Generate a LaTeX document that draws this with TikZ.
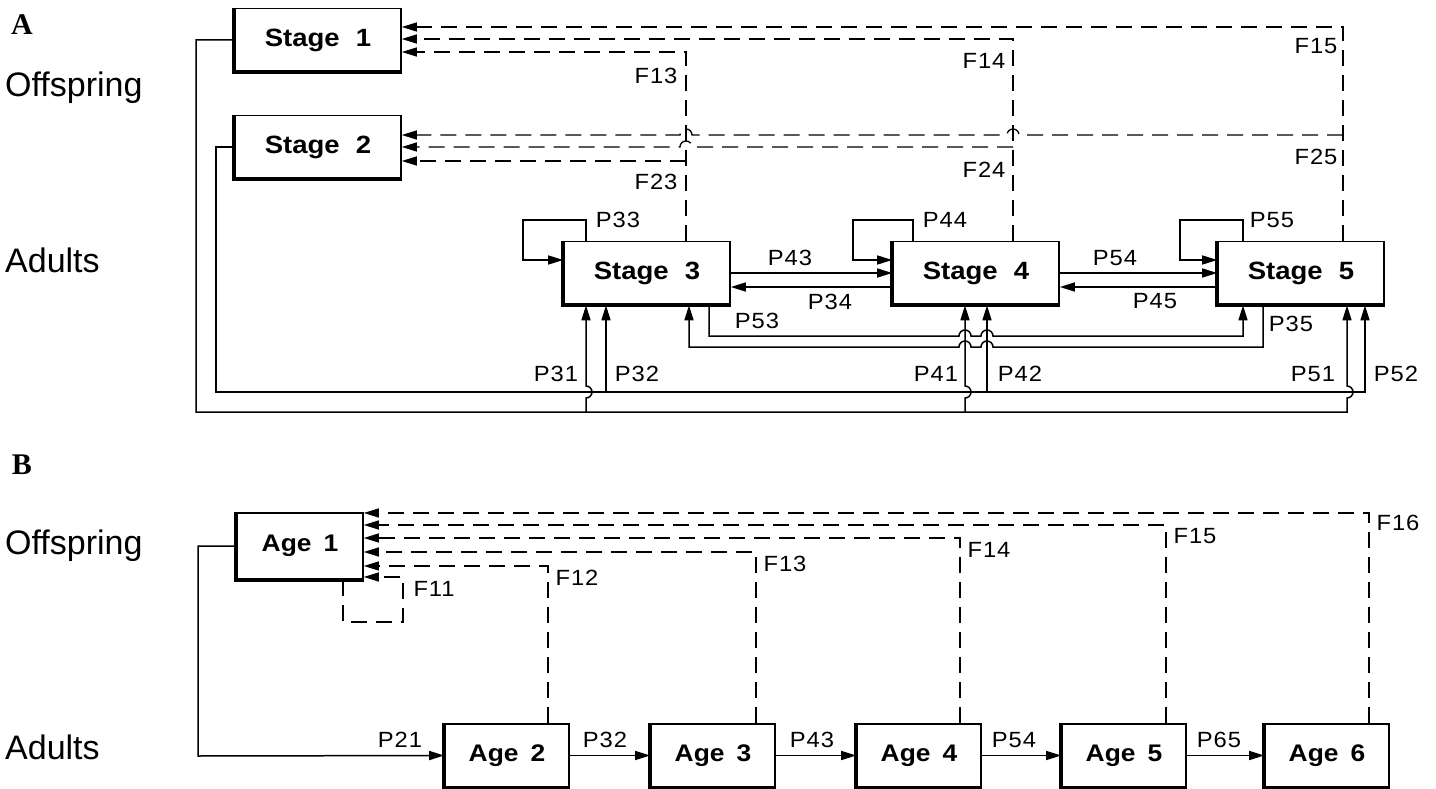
\documentclass[tikz,border=0pt]{standalone}
\usepackage{fontspec}
\setmainfont{Liberation Sans}
\newfontfamily\labfont[FakeStretch=1.08,LetterSpace=4]{Liberation Sans}
\newfontfamily\boxfont[FakeStretch=1.1]{Liberation Sans}
\newfontfamily\panelfont{Liberation Serif}
\usetikzlibrary{arrows.meta}
\begin{document}
\begin{tikzpicture}[x=1pt,y=-1pt,
  box/.style={draw, line width=1.6pt, inner sep=0pt},
  stagebox/.style={box, minimum width=166pt, minimum height=63pt, font=\boxfont\bfseries\fontsize{25}{29}\selectfont},
  agebox/.style={box, minimum width=124pt, minimum height=63pt, font=\boxfont\bfseries\fontsize{24}{28}\selectfont},
  thickedge/.style={line width=3.8pt, line join=miter},
  conn/.style={line width=1.5pt},
  fdash/.style={line width=1.3pt, dash pattern=on 16pt off 9pt},
  tip/.style={-{Triangle[length=15pt,width=9pt]}},
  lab/.style={font=\labfont\fontsize{22}{26}\selectfont, inner sep=0pt},
  side/.style={font=\fontsize{34}{40}\selectfont, inner sep=0pt, anchor=base west},
  panel/.style={font=\panelfont\bfseries\fontsize{30}{34}\selectfont, inner sep=0pt}]
\useasboundingbox (0,0) rectangle (1436,789);

% ---------- Panel A ----------
\node[panel] (pa) at (22,25) {A};
\node[side] (offa) at (5,97) {Offspring};
\node[side] (adua) at (5,272) {Adults};

\node[stagebox] (s1) at (318,40) {Stage\hspace{0.65em}1};
\node[stagebox] (s2) at (318,147) {Stage\hspace{0.65em}2};
\node[stagebox] (s3) at (647,273) {Stage\hspace{0.65em}3};
\node[stagebox] (s4) at (976,273) {Stage\hspace{0.65em}4};
\node[stagebox] (s5) at (1301,273) {Stage\hspace{0.65em}5};

% fecundity (dashed)
\draw[fdash,tip] (s3.north -| 686,0) -- (686,52) -- (s1.east |- 0,52);
\draw[fdash,tip] (686,161) -- (s2.east |- 0,161);
\draw[fdash,tip] (s4.north -| 1013,0) -- (1013,39) -- (s1.east |- 0,39);
\draw[fdash,tip] (1013,147) -- (692,147) arc[start angle=0,end angle=180,radius=6pt] -- (s2.east |- 0,147);
\draw[fdash,tip] (s5.north -| 1343,0) -- (1343,27) -- (s1.east |- 0,27);
\draw[fdash,tip] (1343,135) -- (1019,135) arc[start angle=0,end angle=180,radius=6pt]
   -- (692,135) arc[start angle=0,end angle=180,radius=6pt] -- (s2.east |- 0,135);

\node[lab] (f13) at (656,76) {F13};
\node[lab] (f23) at (656,182) {F23};
\node[lab] (f14) at (984,61) {F14};
\node[lab] (f24) at (984,170) {F24};
\node[lab] (f15) at (1316,46) {F15};
\node[lab] (f25) at (1316,157) {F25};

% self loops
\draw[conn,tip] (s3.north -| 586,0) -- (586,220) -- (523,220) -- (523,260) -- (s3.west |- 0,260);
\draw[conn,tip] (s4.north -| 913,0) -- (913,220) -- (853,220) -- (853,260) -- (s4.west |- 0,260);
\draw[conn,tip] (s5.north -| 1243,0) -- (1243,220) -- (1180,220) -- (1180,260) -- (s5.west |- 0,260);
\node[lab] (p33) at (618,220) {P33};
\node[lab] (p44) at (945,220) {P44};
\node[lab] (p55) at (1272,220) {P55};

% horizontal transitions
\draw[conn,tip] (s3.east |- 0,273) -- (s4.west |- 0,273);
\draw[conn,tip] (s4.west |- 0,287) -- (s3.east |- 0,287);
\draw[conn,tip] (s4.east |- 0,273) -- (s5.west |- 0,273);
\draw[conn,tip] (s5.west |- 0,287) -- (s4.east |- 0,287);
\node[lab] (p43) at (790,258) {P43};
\node[lab] (p34) at (830,302) {P34};
\node[lab] (p54) at (1115,258) {P54};
\node[lab] (p45) at (1155,301) {P45};

% stage 3 <-> stage 5
\draw[conn,tip] (s3.south -| 709,0) -- (709,336) -- (959,336) arc[start angle=180,end angle=0,radius=6pt]
   -- (981,336) arc[start angle=180,end angle=0,radius=6pt] -- (1243,336) -- (s5.south -| 1243,0);
\draw[conn,tip] (s5.south -| 1263,0) -- (1263,347) -- (993,347) arc[start angle=0,end angle=180,radius=6pt]
   -- (971,347) arc[start angle=0,end angle=180,radius=6pt] -- (689,347) -- (s3.south -| 689,0);
\node[lab] (p53) at (757,321) {P53};
\node[lab] (p35) at (1291,324) {P35};

% from stage 1
\draw[conn,tip] (s1.west) -| (196,412) -- (586,412) -- (586,398) arc[start angle=-90,end angle=90,radius=6pt] -- (s3.south -| 586,0);
\draw[conn,tip] (586,412) -- (965,412) -- (965,398) arc[start angle=-90,end angle=90,radius=6pt] -- (s4.south -| 965,0);
\draw[conn,tip] (965,412) -- (1347,412) -- (1347,398) arc[start angle=-90,end angle=90,radius=6pt] -- (s5.south -| 1347,0);
% from stage 2
\draw[conn,tip] (s2.west) -| (216,392) -- (606,392) -- (s3.south -| 606,0);
\draw[conn,tip] (606,392) -- (987,392) -- (s4.south -| 987,0);
\draw[conn,tip] (987,392) -- (1365,392) -- (s5.south -| 1365,0);
\node[lab] (p31) at (556,374) {P31};
\node[lab] (p32) at (637,374) {P32};
\node[lab] (p41) at (936,374) {P41};
\node[lab] (p42) at (1020,374) {P42};
\node[lab] (p51) at (1313,374) {P51};
\node[lab] (p52) at (1396,374) {P52};

% ---------- Panel B ----------
\node[panel] (pb) at (22,465) {B};
\node[side] (offb) at (5,554) {Offspring};
\node[side] (adub) at (5,759) {Adults};

\node[agebox, minimum width=126pt, minimum height=66pt] (a1) at (300,546) {Age\hspace{0.5em}1};
\node[agebox] (a2) at (507,755.5) {Age\hspace{0.5em}2};
\node[agebox] (a3) at (713,755.5) {Age\hspace{0.5em}3};
\node[agebox] (a4) at (919,755.5) {Age\hspace{0.5em}4};
\node[agebox] (a5) at (1124,755.5) {Age\hspace{0.5em}5};
\node[agebox] (a6) at (1327,755.5) {Age\hspace{0.5em}6};

\draw[conn,tip] (a1.west) -| (198,756) -- (a2.west);
\draw[conn,tip] (a2.east) -- (a3.west);
\draw[conn,tip] (a3.east) -- (a4.west);
\draw[conn,tip] (a4.east) -- (a5.west);
\draw[conn,tip] (a5.east) -- (a6.west);
\node[lab] (q21) at (400,740) {P21};
\node[lab] (q32) at (605,740) {P32};
\node[lab] (q43) at (812,740) {P43};
\node[lab] (q54) at (1014,740) {P54};
\node[lab] (q65) at (1219,740) {P65};

\draw[fdash,tip] (a1.south -| 343,0) -- (343,622) -- (403,622) -- (403,577) -- (a1.east |- 0,577);
\draw[fdash,tip] (a2.north -| 548,0) -- (548,566) -- (a1.east |- 0,566);
\draw[fdash,tip] (a3.north -| 756,0) -- (756,552) -- (a1.east |- 0,552);
\draw[fdash,tip] (a4.north -| 960,0) -- (960,538) -- (a1.east |- 0,538);
\draw[fdash,tip] (a5.north -| 1166,0) -- (1166,525) -- (a1.east |- 0,525);
\draw[fdash,tip] (a6.north -| 1369,0) -- (1369,513) -- (a1.east |- 0,513);
\node[lab] (g11) at (434,589) {F11};
\node[lab] (g12) at (577,578) {F12};
\node[lab] (g13) at (785,564) {F13};
\node[lab] (g14) at (989,550) {F14};
\node[lab] (g15) at (1195,536) {F15};
\node[lab] (g16) at (1398,523) {F16};

% heavy left/bottom edges of boxes
\foreach \n in {s1,s2,s3,s4,s5,a1,a2,a3,a4,a5,a6}
  \draw[thickedge] (\n.north west) -- (\n.south west) -- (\n.south east);
\end{tikzpicture}
\end{document}
